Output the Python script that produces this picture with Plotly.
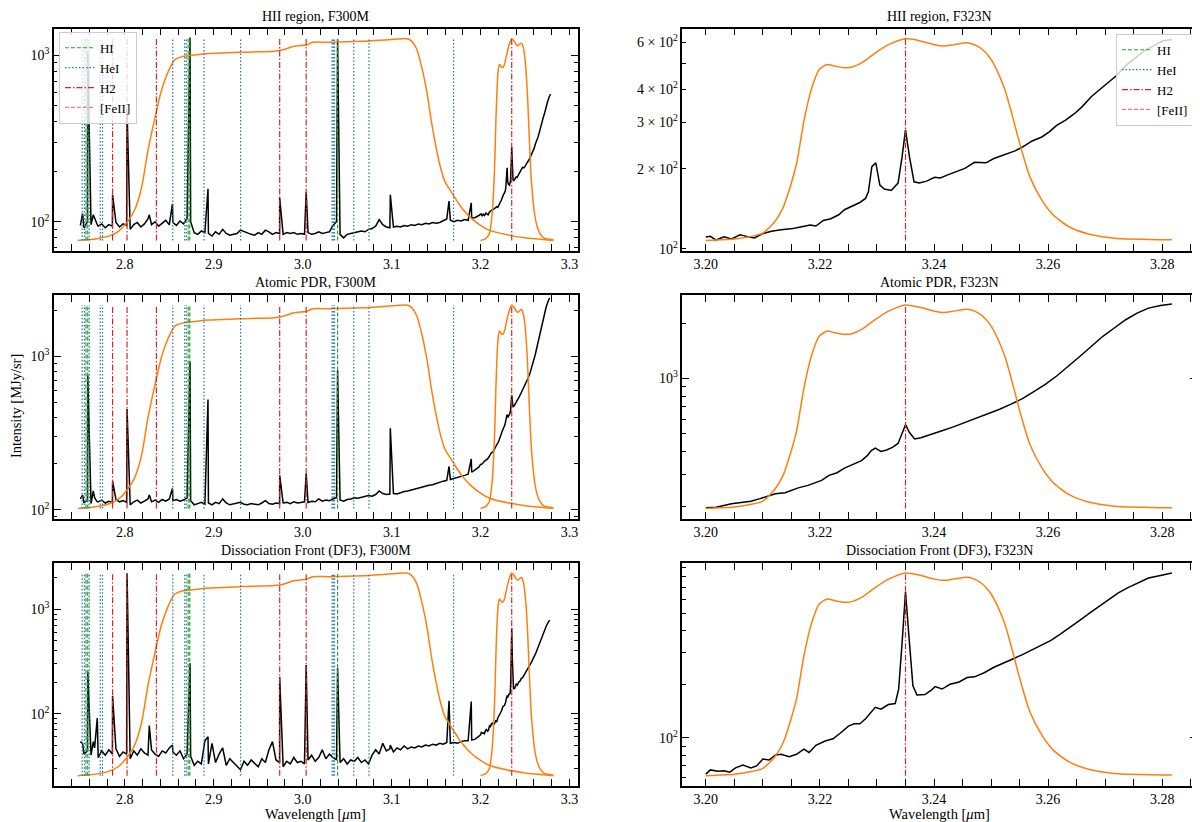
import plotly.graph_objects as go

FONT = "Liberation Serif"

# ---------------- data ----------------
# F300M spectra, wavelength grid below 3.2 um (continuum + noise)
wave_f300m = [
    2.750, 2.754, 2.758, 2.762, 2.766, 2.770, 2.774, 2.778, 2.782, 2.786,
    2.790, 2.794, 2.798, 2.802, 2.806, 2.810, 2.814, 2.818, 2.822, 2.826,
    2.830, 2.834, 2.838, 2.842, 2.846, 2.850, 2.854, 2.858, 2.862, 2.866,
    2.870, 2.874, 2.878, 2.882, 2.886, 2.890, 2.894, 2.898, 2.902, 2.906,
    2.910, 2.914, 2.918, 2.922, 2.926, 2.930, 2.934, 2.938, 2.942, 2.946,
    2.950, 2.954, 2.958, 2.962, 2.966, 2.970, 2.974, 2.978, 2.982, 2.986,
    2.990, 2.994, 2.998, 3.002, 3.006, 3.010, 3.014, 3.018, 3.022, 3.026,
    3.030, 3.034, 3.038, 3.042, 3.046, 3.050, 3.054, 3.058, 3.062, 3.066,
    3.070, 3.074, 3.078, 3.082, 3.086, 3.090, 3.094, 3.098, 3.102, 3.106,
    3.110, 3.114, 3.118, 3.122, 3.126, 3.130, 3.134, 3.138, 3.142, 3.146,
    3.150, 3.154, 3.158, 3.162, 3.166, 3.170, 3.174, 3.178, 3.182, 3.186,
    3.190, 3.194, 3.198]
hii_f300m = [
    95, 92, 100, 96, 104, 94, 97, 92, 96, 94,
    99, 93, 97, 95, 90, 96, 99, 93, 97, 104,
    96, 100, 94, 98, 102, 96, 99, 95, 101, 97,
    105, 100, 86, 84, 88, 86, 85, 82, 87, 84,
    90, 85, 83, 84, 85, 89, 87, 85, 84, 83,
    86, 84, 89, 87, 84, 86, 85, 84, 86, 85,
    86, 84, 85, 84, 86, 84, 85, 87, 85, 86,
    87, 95, 100, 84, 80, 84, 85, 86, 87, 88,
    87, 90, 91, 94, 103, 96, 93, 92, 93, 94,
    93, 95, 94, 96, 95, 97, 96, 98, 97, 99,
    98, 99, 101, 104, 102, 100, 102, 101, 103, 102,
    105, 106, 109]
pdr_f300m = [
    118, 112, 115, 110, 120, 113, 116, 111, 114, 112,
    117, 113, 115, 112, 108, 113, 116, 111, 114, 118,
    113, 116, 112, 117, 114, 118, 115, 117, 114, 116,
    120, 115, 108, 110, 112, 109, 111, 108, 112, 110,
    118, 111, 108, 109, 110, 112, 109, 108, 110, 109,
    108, 111, 115, 110, 109, 111, 110, 111, 112, 110,
    113, 111, 112, 113, 112, 114, 113, 118, 114, 116,
    115, 118, 120, 116, 114, 117, 118, 120, 119, 121,
    122, 124, 123, 126, 133, 128, 126, 127, 128, 127,
    130, 132, 133, 135, 137, 139, 140, 143, 145, 146,
    149, 151, 154, 156, 158, 160, 162, 165, 168, 171,
    176, 183, 190]
df3_f300m = [
    54, 41, 44, 40, 47, 38, 44, 40, 45, 41,
    46, 39, 43, 41, 37, 44, 40, 46, 42, 40,
    45, 41, 39, 44, 42, 47, 43, 40, 44, 37,
    41, 39, 32, 35, 33, 55, 33, 52, 34, 41,
    47, 32, 37, 34, 31, 29, 35, 32, 36, 33,
    31, 37, 34, 45, 54, 36, 34, 31, 35, 33,
    38, 34, 35, 33, 36, 40, 35, 38, 45, 37,
    41, 38, 36, 34, 37, 33, 36, 35, 38, 34,
    36, 33, 40, 45, 41, 52, 44, 46, 43, 47,
    45, 49, 46, 48, 47, 49, 48, 50, 49, 51,
    50, 52, 51, 53, 52, 53, 52, 54, 55, 55,
    56, 57, 60]

# narrow emission line peaks in the F300M range
peak_wave = [2.7525, 2.7583, 2.7645, 2.7690, 2.7862, 2.8025, 2.8275, 2.8535,
             2.8733, 2.8935, 2.9741, 3.0039, 3.0392, 3.0985, 3.1645, 3.1895]
hii_peaks = [112, 1050, 110, 96, 145, 465, 110, 128,
             1280, 158, 139, 151, 1250, 145, 133, 130]
pdr_peaks = [125, 753, 133, 113, 154, 454, 125, 138,
             928, 525, 168, 172, 813, 341, 192, 215]
df3_peaks = [52, 254, 54, 91, 148, 2220, 77, 50,
             304, 60, 224, 293, 272, 50, 133, 131]

# spectra in the F323N range
hii_f323n_wave = [
    3.2000, 3.2008, 3.2018, 3.2032, 3.2045, 3.2060, 3.2075, 3.2085, 3.2099, 3.2115,
    3.2132, 3.2149, 3.2166, 3.2183, 3.2193, 3.2206, 3.2219, 3.2233, 3.2243, 3.2256,
    3.2270, 3.2280, 3.2285, 3.2291, 3.2298, 3.2305, 3.2313, 3.2325, 3.2337, 3.2344,
    3.2350, 3.2357, 3.2365, 3.2374, 3.2387, 3.2401, 3.2411, 3.2424, 3.2438, 3.2454,
    3.2471, 3.2491, 3.2505, 3.2525, 3.2542, 3.2555, 3.2572, 3.2589, 3.2602, 3.2615,
    3.2630, 3.2646, 3.2659, 3.2676, 3.2689, 3.2703, 3.2720, 3.2736, 3.2753, 3.2770,
    3.2787, 3.2800, 3.2817]
hii_f323n = [
    111, 111.5, 108, 111, 109, 113, 111, 110, 114, 116.6,
    118, 119, 121, 123, 122, 128, 130, 134.5, 140.5, 145,
    149.6, 155, 164, 204, 211, 174, 168, 166, 177, 222,
    281, 222, 179, 177, 180, 186, 185, 190, 195.5, 201,
    212, 211, 219, 227, 234, 242, 255, 264, 276, 292,
    305, 323, 342, 375, 395, 420, 450, 490, 526, 560,
    586, 607, 615]
pdr_f323n_wave = [
    3.2000, 3.2018, 3.2045, 3.2065, 3.2079, 3.2095, 3.2109, 3.2122, 3.2139, 3.2149,
    3.2162, 3.2179, 3.2193, 3.2203, 3.2216, 3.2230, 3.2243, 3.2256, 3.2273, 3.2283,
    3.2290, 3.2297, 3.2307, 3.2317, 3.2327, 3.2337, 3.2344, 3.2350, 3.2357, 3.2366,
    3.2377, 3.2394, 3.2414, 3.2434, 3.2454, 3.2474, 3.2495, 3.2515, 3.2535, 3.2555,
    3.2575, 3.2595, 3.2615, 3.2636, 3.2656, 3.2676, 3.2696, 3.2716, 3.2736, 3.2756,
    3.2776, 3.2797, 3.2817]
pdr_f323n = [
    198, 199.5, 208, 211, 215, 222, 228.6, 236, 239, 246,
    254, 262, 273, 279, 297, 307, 325, 339, 357, 380,
    405, 418, 401, 408, 422, 443, 498, 560, 508, 468,
    476, 494, 519, 545, 576, 608, 639, 680, 724, 776,
    847, 928, 1030, 1166, 1320, 1496, 1694, 1879, 2084, 2264,
    2410, 2490, 2536]
df3_f323n_wave = [
    3.2000, 3.2008, 3.2021, 3.2032, 3.2042, 3.2052, 3.2065, 3.2079, 3.2089, 3.2100,
    3.2111, 3.2122, 3.2132, 3.2146, 3.2159, 3.2172, 3.2181, 3.2193, 3.2209, 3.2223,
    3.2236, 3.2250, 3.2260, 3.2270, 3.2280, 3.2290, 3.2297, 3.2307, 3.2320, 3.2332,
    3.2338, 3.2344, 3.2350, 3.2357, 3.2363, 3.2370, 3.2384, 3.2394, 3.2402, 3.2414,
    3.2428, 3.2444, 3.2458, 3.2471, 3.2488, 3.2505, 3.2521, 3.2538, 3.2555, 3.2572,
    3.2589, 3.2605, 3.2622, 3.2639, 3.2656, 3.2672, 3.2689, 3.2706, 3.2723, 3.2740,
    3.2756, 3.2776, 3.2797, 3.2817]
df3_f323n = [
    62.7, 66.2, 65, 65.4, 64.3, 68, 70.6, 68, 69.7, 76.2,
    75.2, 80.2, 81, 78.4, 81, 86.5, 82.9, 91, 96.2, 99,
    106.6, 116.5, 120, 120, 128, 139, 148.6, 145, 154, 156,
    187.6, 340, 658, 340, 196, 174, 175, 184, 194, 188,
    200, 206, 218, 220, 232, 249, 261, 277, 293, 312,
    333, 352, 383, 417, 458, 499, 543, 597, 650, 696,
    738, 787, 813, 841]

# filter throughputs, normalised to their peak
f300m_wave = [2.747, 2.760, 2.770, 2.781, 2.7925, 2.800, 2.811, 2.819, 2.826, 2.834,
              2.841, 2.849, 2.856, 2.864, 2.871, 2.894, 2.931, 2.968, 2.979, 2.990,
              3.005, 3.011, 3.030, 3.068, 3.087, 3.106, 3.117, 3.122, 3.128, 3.134,
              3.140, 3.145, 3.150, 3.155, 3.160, 3.165, 3.170, 3.175, 3.180, 3.190,
              3.200, 3.210, 3.230, 3.250, 3.282]
f300m_thru = [0.0, 0.004, 0.010, 0.020, 0.044, 0.077, 0.151, 0.266, 0.446, 0.610,
              0.741, 0.839, 0.895, 0.911, 0.915, 0.926, 0.933, 0.938, 0.946, 0.962,
              0.970, 0.982, 0.982, 0.987, 0.992, 0.998, 1.0, 0.990, 0.950, 0.855,
              0.725, 0.580, 0.460, 0.360, 0.290, 0.255, 0.220, 0.185, 0.155, 0.108,
              0.075, 0.050, 0.028, 0.013, 0.0]
f323n_wave = [3.2000, 3.2050, 3.2080, 3.2100, 3.2120, 3.2135, 3.2146, 3.2159, 3.2172, 3.2185,
              3.2199, 3.2213, 3.2226, 3.2243, 3.2256, 3.2273, 3.2293, 3.2320, 3.2349, 3.2374,
              3.2401, 3.2417, 3.2434, 3.2458, 3.2471, 3.2485, 3.2498, 3.2511, 3.2525, 3.2538,
              3.2552, 3.2568, 3.2589, 3.2609, 3.2636, 3.2669, 3.2716, 3.2817]
f323n_thru = [0.0, 0.007, 0.020, 0.036, 0.090, 0.160, 0.249, 0.380, 0.593, 0.749,
              0.848, 0.872, 0.864, 0.856, 0.859, 0.880, 0.921, 0.970, 1.0, 0.990,
              0.970, 0.964, 0.970, 0.979, 0.970, 0.946, 0.905, 0.839, 0.741, 0.610,
              0.462, 0.315, 0.200, 0.126, 0.069, 0.033, 0.011, 0.003]

# line positions (um)
hi_lines = [2.7563, 2.7583, 2.8712, 2.8730, 3.0392]
hei_lines = [2.7520, 2.7545, 2.7600, 2.7723, 2.7749, 2.8539, 2.8673, 2.8691, 2.8890,
             2.9302, 3.0330, 3.0343, 3.0357, 3.0574, 3.0745, 3.1696]
h2_lines = [2.7862, 2.8025, 2.8355, 2.9741, 3.0039, 3.2350]
feii_lines = []


# ---------------- helpers ----------------
def with_lines(wave, cont, pwave, pval, wave2, val2, wmax=3.279):
    pts = sorted(list(zip(wave, cont)) + list(zip(pwave, pval)))
    pts += [(w, v) for w, v in zip(wave2, val2) if w <= wmax]
    return [p[0] for p in pts], [p[1] for p in pts]


def vline_xy(pos):
    xs, ys = [], []
    for w in pos:
        xs += [w, w, None]
        ys += [0, 1, None]
    if not xs:
        xs, ys = [None], [None]
    return xs, ys


def p10(e):
    return "10<sup>%d</sup>" % e


def minor_vals(lo, hi):
    return [m * 10 ** e for e in range(1, 5) for m in range(2, 10)
            if lo <= m * 10 ** e <= hi]


line_styles = [("HI", hi_lines, "#2ca02c", "4px,2px"),
               ("HeI", hei_lines, "#1f77b4", "1.5px,2px"),
               ("H2", h2_lines, "#d62728", "6px,2px,1.5px,2px"),
               ("[FeII]", feii_lines, "#e377c2", "4px,2px")]

LX = [46 / 1200, 570 / 1200]
RX = [675 / 1200, 1190 / 1200]
rows = [(20.7, 244.3), (289.0, 514.3), (559.0, 783.5)]


def ydom(r):
    return [1 - rows[r][1] / 822, 1 - rows[r][0] / 822]


hii_x, hii_y = with_lines(wave_f300m, hii_f300m, peak_wave, hii_peaks, hii_f323n_wave, hii_f323n)
pdr_x, pdr_y = with_lines(wave_f300m, pdr_f300m, peak_wave, pdr_peaks, pdr_f323n_wave, pdr_f323n)
df3_x, df3_y = with_lines(wave_f300m, df3_f300m, peak_wave, df3_peaks, df3_f323n_wave, df3_f323n)

panels = [
    dict(k=1, col=0, row=0, title="HII region, F300M", x=hii_x, y=hii_y,
         yr=[1.827, 3.161], tv=[100, 1000], tt=[p10(2), p10(3)], mv=minor_vals(50, 1500)),
    dict(k=2, col=1, row=0, title="HII region, F323N", x=hii_f323n_wave, y=hii_f323n,
         yr=[1.994, 2.830], tv=[100, 200, 300, 400, 500, 600],
         tt=[p10(2), "2 × " + p10(2), "3 × " + p10(2), "4 × " + p10(2), "", "6 × " + p10(2)], mv=[]),
    dict(k=3, col=0, row=1, title="Atomic PDR, F300M", x=pdr_x, y=pdr_y,
         yr=[1.944, 3.401], tv=[100, 1000], tt=[p10(2), p10(3)], mv=minor_vals(80, 2600)),
    dict(k=4, col=1, row=1, title="Atomic PDR, F323N", x=pdr_f323n_wave, y=pdr_f323n,
         yr=[2.238, 3.454], tv=[1000], tt=[p10(3)], mv=minor_vals(150, 2900)),
    dict(k=5, col=0, row=2, title="Dissociation Front (DF3), F300M", x=df3_x, y=df3_y,
         yr=[1.309, 3.445], tv=[100, 1000], tt=[p10(2), p10(3)], mv=minor_vals(20, 2800)),
    dict(k=6, col=1, row=2, title="Dissociation Front (DF3), F323N", x=df3_f323n_wave, y=df3_f323n,
         yr=[1.732, 2.981], tv=[100], tt=[p10(2)], mv=minor_vals(50, 960)),
]

fig = go.Figure()
layout = dict(
    width=1200, height=822, autosize=False,
    margin=dict(l=0, r=0, t=0, b=0),
    paper_bgcolor="white", plot_bgcolor="white",
    font=dict(family=FONT, size=14, color="black"),
    annotations=[],
)

for p in panels:
    k = p["k"]
    left = p["col"] == 0
    xs = "x%d" % k
    ys = "y%d" % k
    yt = "y%d" % (k + 6)
    # spectrum
    fig.add_trace(go.Scatter(x=p["x"], y=p["y"], mode="lines", xaxis=xs, yaxis=ys,
                             line=dict(color="black", width=1.5), showlegend=False,
                             hoverinfo="skip"))
    # filter curves on a hidden twin axis
    if left:
        fig.add_trace(go.Scatter(x=f300m_wave, y=f300m_thru, mode="lines", xaxis=xs, yaxis=yt,
                                 line=dict(color="#ff7f0e", width=1.5, shape="spline", smoothing=0.6),
                                 showlegend=False, hoverinfo="skip"))
    fig.add_trace(go.Scatter(x=f323n_wave, y=f323n_thru, mode="lines", xaxis=xs, yaxis=yt,
                             line=dict(color="#ff7f0e", width=1.5, shape="spline", smoothing=0.6),
                             showlegend=False, hoverinfo="skip"))
    # line markers
    for name, pos, color, dash in line_styles:
        lx, ly = vline_xy(pos)
        show = k in (1, 2)
        fig.add_trace(go.Scatter(x=lx, y=ly, mode="lines", xaxis=xs, yaxis=yt, name=name,
                                 line=dict(color=color, width=1.2, dash=dash),
                                 showlegend=show, legend="legend" if k == 1 else "legend2",
                                 hoverinfo="skip"))

    xdom = LX if left else RX
    xr = [2.7203, 3.309] if left else [3.1959, 3.2861]
    layout["xaxis%d" % k] = dict(
        domain=xdom, anchor=ys, range=xr,
        tickmode="linear", tick0=2.8 if left else 3.2, dtick=0.1 if left else 0.02,
        tickformat=".1f" if left else ".2f",
        ticks="inside", ticklen=7, tickwidth=1.2, tickcolor="black",
        mirror="allticks", showline=True, linecolor="black", linewidth=1.6,
        showgrid=False, zeroline=False, tickfont=dict(size=14),
        minor=dict(ticks="inside", tick0=2.8 if left else 3.2, dtick=0.02 if left else 0.005,
                   ticklen=3.5, tickwidth=1, tickcolor="black", showgrid=False))
    layout["yaxis%d" % k] = dict(
        domain=ydom(p["row"]), anchor=xs, type="log", range=p["yr"],
        tickmode="array", tickvals=p["tv"], ticktext=p["tt"],
        ticks="inside", ticklen=7 if k != 2 else 4, tickwidth=1.2, tickcolor="black",
        mirror="allticks", showline=True, linecolor="black", linewidth=1.6,
        showgrid=False, zeroline=False, tickfont=dict(size=14),
        minor=dict(tickmode="array", tickvals=p["mv"], ticks="inside", ticklen=3.5,
                   tickwidth=1, tickcolor="black", showgrid=False))
    layout["yaxis%d" % (k + 6)] = dict(overlaying=ys, anchor=xs, range=[-0.05, 1.05],
                                       visible=False, showgrid=False, zeroline=False)

    top = rows[p["row"]][0]
    layout["annotations"].append(dict(
        text=p["title"], xref="paper", yref="paper", x=sum(xdom) / 2, y=1 - (top - 12.5) / 822,
        xanchor="center", yanchor="middle", showarrow=False, font=dict(family=FONT, size=14)))

for xc in (sum(LX) / 2, sum(RX) / 2):
    layout["annotations"].append(dict(
        text="Wavelength [<i>μ</i>m]", xref="paper", yref="paper", x=xc, y=1 - 812 / 822,
        xanchor="center", yanchor="middle", showarrow=False, font=dict(family=FONT, size=14.5)))
layout["annotations"].append(dict(
    text="Intensity [MJy/sr]", xref="paper", yref="paper", x=8 / 1200, y=1 - 401 / 822,
    xanchor="center", yanchor="middle", textangle=-90, showarrow=False,
    font=dict(family=FONT, size=14.5)))

legend_style = dict(bgcolor="rgba(255,255,255,0.8)", bordercolor="#cccccc", borderwidth=1,
                    font=dict(family=FONT, size=13), tracegroupgap=0, itemwidth=30,
                    xref="paper", yref="paper", yanchor="top")
layout["legend"] = dict(legend_style, x=51 / 1200, y=1 - 24 / 822, xanchor="left")
layout["legend2"] = dict(legend_style, x=1187 / 1200, y=1 - 26 / 822, xanchor="right")

fig.update_layout(**layout)
fig.write_html("out.html")
